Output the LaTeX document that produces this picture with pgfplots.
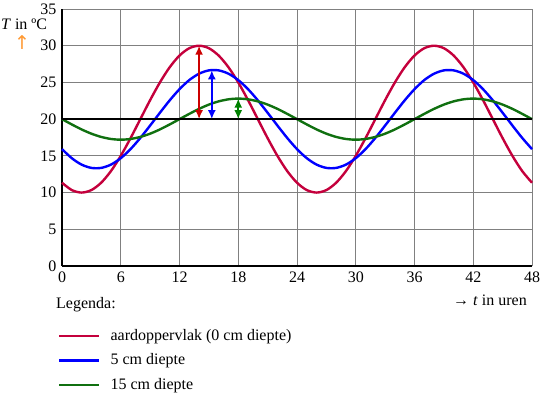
\documentclass[border=0pt]{standalone}
\usepackage{fontspec}
\setmainfont{Liberation Serif}
\newfontfamily\symfont{DejaVu Sans}
\usepackage{pgfplots}
\usepackage{pgfplotstable}
\pgfplotsset{compat=1.18}
\usetikzlibrary{arrows.meta}

\definecolor{cred}{RGB}{196,0,60}
\definecolor{ared}{RGB}{204,0,0}
\definecolor{cblue}{RGB}{0,0,255}
\definecolor{cgreen}{RGB}{16,112,16}
\definecolor{agreen}{RGB}{0,128,0}
\definecolor{corange}{RGB}{255,153,51}
\definecolor{gridgray}{RGB}{128,128,128}

\pgfplotstableread{
t T
0 11.34
1 10.34
2 10.00
3 10.34
4 11.34
5 12.93
6 15.00
7 17.41
8 20.00
9 22.59
10 25.00
11 27.07
12 28.66
13 29.66
14 30.00
15 29.66
16 28.66
17 27.07
18 25.00
19 22.59
20 20.00
21 17.41
22 15.00
23 12.93
24 11.34
25 10.34
26 10.00
27 10.34
28 11.34
29 12.93
30 15.00
31 17.41
32 20.00
33 22.59
34 25.00
35 27.07
36 28.66
37 29.66
38 30.00
39 29.66
40 28.66
41 27.07
42 25.00
43 22.59
44 20.00
45 17.41
46 15.00
47 12.93
48 11.34
}\redtab

\pgfplotstableread{
t T
0 15.92
1 14.68
2 13.81
3 13.36
4 13.36
5 13.81
6 14.68
7 15.92
8 17.44
9 19.13
10 20.87
11 22.56
12 24.08
13 25.32
14 26.19
15 26.64
16 26.64
17 26.19
18 25.32
19 24.08
20 22.56
21 20.87
22 19.13
23 17.44
24 15.92
25 14.68
26 13.81
27 13.36
28 13.36
29 13.81
30 14.68
31 15.92
32 17.44
33 19.13
34 20.87
35 22.56
36 24.08
37 25.32
38 26.19
39 26.64
40 26.64
41 26.19
42 25.32
43 24.08
44 22.56
45 20.87
46 19.13
47 17.44
48 15.92
}\bluetab

\pgfplotstableread{
t T
0 20.00
1 19.28
2 18.60
3 18.02
4 17.58
5 17.30
6 17.20
7 17.30
8 17.58
9 18.02
10 18.60
11 19.28
12 20.00
13 20.72
14 21.40
15 21.98
16 22.42
17 22.70
18 22.80
19 22.70
20 22.42
21 21.98
22 21.40
23 20.72
24 20.00
25 19.28
26 18.60
27 18.02
28 17.58
29 17.30
30 17.20
31 17.30
32 17.58
33 18.02
34 18.60
35 19.28
36 20.00
37 20.72
38 21.40
39 21.98
40 22.42
41 22.70
42 22.80
43 22.70
44 22.42
45 21.98
46 21.40
47 20.72
48 20.00
}\greentab

\begin{document}
\fontsize{16bp}{19bp}\selectfont
\begin{tikzpicture}
\useasboundingbox (-62bp,-127bp) rectangle (488bp,266bp);
\begin{axis}[
  at={(0,0)}, anchor=south west,
  scale only axis, width=470bp, height=257bp,
  xmin=0, xmax=48, ymin=0, ymax=35,
  xtick={0,6,...,48}, ytick={0,5,...,35},
  axis lines*=left,
  axis line style={black, line width=1.2bp},
  major tick length=0pt,
  grid=major,
  major grid style={gridgray, line width=1bp},
  /pgf/number format/assume math mode=true,
  clip=false,
  legend style={draw=none, fill=none, at={(axis description cs:-0.0085,-0.241)}, anchor=north west,
    inner sep=0pt, row sep=8.5bp, column sep=10bp,
    nodes={inner ysep=0pt, inner xsep=0pt, text height=12bp, text depth=4bp}},
  legend cell align=left,
  legend image code/.code={\draw[#1, line width=2.4bp] (0bp,0bp) -- (40bp,0bp);},
]
\addplot[cred, line width=2.4bp, smooth] table[x=t,y=T] {\redtab};
\addlegendentry{aardoppervlak (0 cm diepte)}
\addplot[cblue, line width=2.4bp, smooth] table[x=t,y=T] {\bluetab};
\addlegendentry{5 cm diepte}
\addplot[cgreen, line width=2.4bp, smooth] table[x=t,y=T] {\greentab};
\addlegendentry{15 cm diepte}

\addplot[forget plot, black, line width=2bp] coordinates {(0,20) (48,20)};

\addplot[forget plot, ared, line width=1.8bp, {Latex[length=9bp,width=8bp]}-{Latex[length=9bp,width=8bp]}] coordinates {(14,20) (14,30)};
\addplot[forget plot, cblue, line width=1.8bp, {Latex[length=9bp,width=8bp]}-{Latex[length=9bp,width=8bp]}] coordinates {(15.3,20) (15.3,26.65)};
\addplot[forget plot, agreen, line width=1.8bp, {Latex[length=9bp,width=8bp]}-{Latex[length=9bp,width=8bp]}] coordinates {(18,20) (18,22.8)};

\node[anchor=base west, inner sep=0pt] at (axis description cs:-0.1298,0.9183) {\textit{T} in ºC};
\node[anchor=center, inner sep=0pt, text=corange, font=\symfont\fontsize{19bp}{20bp}\selectfont] at (axis description cs:-0.0851,0.8677) {↑};
\node[anchor=base east, inner sep=0pt] at (axis description cs:0.9894,-0.1556) {→ \textit{t} in uren};
\node[anchor=base west, inner sep=0pt] at (axis description cs:-0.01277,-0.1673) {Legenda:};
\end{axis}
\end{tikzpicture}
\end{document}
